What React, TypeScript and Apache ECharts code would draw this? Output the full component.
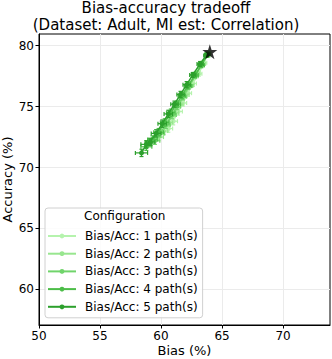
import React, { useEffect, useRef } from "react";
import * as echarts from "echarts";

const seriesNames = [
  "Bias/Acc: 1 path(s)",
  "Bias/Acc: 2 path(s)",
  "Bias/Acc: 3 path(s)",
  "Bias/Acc: 4 path(s)",
  "Bias/Acc: 5 path(s)",
];
const seriesColors = ["#b5f3ad", "#98e68f", "#70d46b", "#4cbd48", "#2ca02c"];

const bias1 = [63.9, 63.5, 63.1, 62.6, 62.2, 61.8, 61.4, 61.0, 60.6];
const acc1 = [79.4, 78.6, 77.7, 76.9, 76.1, 75.3, 74.6, 73.8, 73.2];
const biasErr1 = [0.2, 0.25, 0.25, 0.3, 0.3, 0.3, 0.35, 0.35, 0.35];
const accErr1 = [0.15, 0.2, 0.2, 0.25, 0.25, 0.25, 0.3, 0.3, 0.3];

const bias2 = [63.8, 63.4, 62.9, 62.4, 62.0, 61.5, 61.1, 60.6, 60.2, 59.8];
const acc2 = [79.3, 78.5, 77.7, 76.8, 76.0, 75.2, 74.5, 73.7, 73.0, 72.5];
const biasErr2 = [0.2, 0.25, 0.25, 0.3, 0.3, 0.3, 0.35, 0.35, 0.35, 0.4];
const accErr2 = [0.15, 0.2, 0.2, 0.25, 0.25, 0.25, 0.3, 0.3, 0.3, 0.3];

const bias3 = [63.8, 63.3, 62.8, 62.3, 61.8, 61.3, 60.9, 60.4, 59.9, 59.5];
const acc3 = [79.2, 78.4, 77.5, 76.7, 75.8, 75.0, 74.3, 73.5, 72.8, 72.2];
const biasErr3 = [0.2, 0.25, 0.25, 0.3, 0.3, 0.3, 0.35, 0.35, 0.4, 0.4];
const accErr3 = [0.15, 0.2, 0.2, 0.25, 0.25, 0.25, 0.3, 0.3, 0.3, 0.3];

const bias4 = [63.8, 63.3, 62.8, 62.2, 61.7, 61.3, 60.8, 60.3, 59.8, 59.3, 58.8];
const acc4 = [79.3, 78.4, 77.6, 76.7, 75.9, 75.2, 74.5, 73.7, 72.9, 72.3, 71.7];
const biasErr4 = [0.2, 0.25, 0.25, 0.3, 0.3, 0.3, 0.35, 0.35, 0.4, 0.4, 0.45];
const accErr4 = [0.15, 0.2, 0.2, 0.25, 0.25, 0.25, 0.3, 0.3, 0.3, 0.3, 0.3];

const bias5 = [63.7, 63.2, 62.6, 62.1, 61.6, 61.1, 60.6, 60.1, 59.6, 59.1, 58.8, 58.4];
const acc5 = [79.2, 78.5, 77.6, 76.8, 76.0, 75.2, 74.4, 73.6, 72.8, 72.1, 71.9, 71.2];
const biasErr5 = [0.2, 0.25, 0.25, 0.3, 0.3, 0.3, 0.35, 0.35, 0.4, 0.4, 0.45, 0.5];
const accErr5 = [0.15, 0.2, 0.2, 0.25, 0.25, 0.25, 0.3, 0.3, 0.3, 0.3, 0.3, 0.3];

const biasAll = [bias1, bias2, bias3, bias4, bias5];
const accAll = [acc1, acc2, acc3, acc4, acc5];
const biasErrAll = [biasErr1, biasErr2, biasErr3, biasErr4, biasErr5];
const accErrAll = [accErr1, accErr2, accErr3, accErr4, accErr5];

const baselinePoint = [64.0, 79.5];

const xTicks = [50, 55, 60, 65, 70];
const yTicks = [60, 65, 70, 75, 80];

const FONT = "DejaVu Sans";
const STAR = "path://M50,0 L61.2,34.5 L97.6,34.5 L68.2,55.9 L79.4,90.5 L50,69.1 L20.6,90.5 L31.8,55.9 L2.4,34.5 L38.8,34.5 Z";

export default function App() {
  const ref = useRef<HTMLDivElement>(null);
  useEffect(() => {
    if (!ref.current) return;
    const chart = echarts.init(ref.current, null, { renderer: "svg" });
    const series: any[] = [];
    for (let s = 0; s < 5; s++) {
      const color = seriesColors[s];
      const pts = biasAll[s].map((b, i) => [b, accAll[s][i]]);
      const errs = biasAll[s].map((b, i) => [b, accAll[s][i], biasErrAll[s][i], accErrAll[s][i]]);
      series.push({
        type: "custom",
        name: "err" + s,
        data: errs,
        z: 2 + s * 2,
        silent: true,
        renderItem: (params: any, api: any) => {
          const x = api.value(0), y = api.value(1), ex = api.value(2), ey = api.value(3);
          const l = api.coord([x - ex, y]);
          const r = api.coord([x + ex, y]);
          const t = api.coord([x, y + ey]);
          const b = api.coord([x, y - ey]);
          const st = { stroke: color, lineWidth: 1.2 };
          const cap = 2;
          return {
            type: "group",
            children: [
              { type: "line", shape: { x1: l[0], y1: l[1], x2: r[0], y2: r[1] }, style: st },
              { type: "line", shape: { x1: t[0], y1: t[1], x2: b[0], y2: b[1] }, style: st },
              { type: "line", shape: { x1: l[0], y1: l[1] - cap, x2: l[0], y2: l[1] + cap }, style: st },
              { type: "line", shape: { x1: r[0], y1: r[1] - cap, x2: r[0], y2: r[1] + cap }, style: st },
              { type: "line", shape: { x1: t[0] - cap, y1: t[1], x2: t[0] + cap, y2: t[1] }, style: st },
              { type: "line", shape: { x1: b[0] - cap, y1: b[1], x2: b[0] + cap, y2: b[1] }, style: st },
            ],
          };
        },
      });
      series.push({
        type: "line",
        name: seriesNames[s],
        data: pts,
        z: 3 + s * 2,
        symbol: "circle",
        symbolSize: 5,
        showSymbol: true,
        lineStyle: { color, width: 1.5 },
        itemStyle: { color },
      });
    }
    series.push({
      type: "scatter",
      name: "baseline",
      data: [baselinePoint],
      symbol: STAR,
      symbolSize: 15,
      itemStyle: { color: "#000" },
      z: 20,
    });

    chart.setOption({
      animation: false,
      textStyle: { fontFamily: FONT },
      title: {
        text: "Bias-accuracy tradeoff\n(Dataset: Adult, MI est: Correlation)",
        left: "center",
        top: 0,
        padding: 0,
        textStyle: { fontFamily: FONT, fontSize: 15, fontWeight: "normal", color: "#000", lineHeight: 16.5 },
      },
      grid: {
        left: 39, right: 2, top: 34, bottom: 34,
        outerBoundsMode: "none", containLabel: false,
        show: true, borderColor: "#000", borderWidth: 1,
      },
      xAxis: {
        type: "value",
        min: 50,
        max: 73.85,
        name: "Bias (%)",
        nameLocation: "middle",
        nameGap: 18,
        nameMoveOverlap: false,
        nameTextStyle: { fontFamily: FONT, fontSize: 13, color: "#000", verticalAlign: "top", lineHeight: 15 },
        axisLine: { show: true, lineStyle: { color: "#000" } },
        axisTick: { show: true, length: 3.5, lineStyle: { color: "#000" }, customValues: xTicks },
        axisLabel: { fontFamily: FONT, fontSize: 12, color: "#000", margin: 5, customValues: xTicks },
        splitLine: { show: true, lineStyle: { color: "#ebebeb", width: 1 } },
      },
      yAxis: {
        type: "value",
        min: 57.07,
        max: 80.96,
        name: "Accuracy (%)",
        nameLocation: "middle",
        nameGap: 24,
        nameMoveOverlap: false,
        nameTextStyle: { fontFamily: FONT, fontSize: 13, color: "#000", lineHeight: 15 },
        axisLine: { show: true, lineStyle: { color: "#000" } },
        axisTick: { show: true, length: 3.5, lineStyle: { color: "#000" }, customValues: yTicks },
        axisLabel: { fontFamily: FONT, fontSize: 12, color: "#000", margin: 5, customValues: yTicks },
        splitLine: { show: true, lineStyle: { color: "#ebebeb", width: 1 } },
      },
      legend: {
        data: seriesNames,
        orient: "vertical",
        left: 45,
        top: 208,
        padding: [21, 5, 4, 2],
        itemGap: 3.7,
        itemWidth: 28,
        itemHeight: 6,
        backgroundColor: "rgba(255,255,255,0.85)",
        borderColor: "#d0d0d0",
        borderWidth: 1,
        borderRadius: 3,
        selectedMode: false,
        textStyle: { fontFamily: FONT, fontSize: 12, color: "#000", lineHeight: 14, padding: [0, 0, 0, 4] },
      },
      graphic: [
        {
          type: "text",
          left: 84,
          top: 210,
          z: 100,
          style: { text: "Configuration", fontFamily: FONT, fontSize: 12, fill: "#000" },
        },
      ],
      series,
    });
    return () => chart.dispose();
  }, []);
  return <div ref={ref} style={{ width: 332, height: 359, position: "absolute", left: 0, top: 0 }} />;
}
